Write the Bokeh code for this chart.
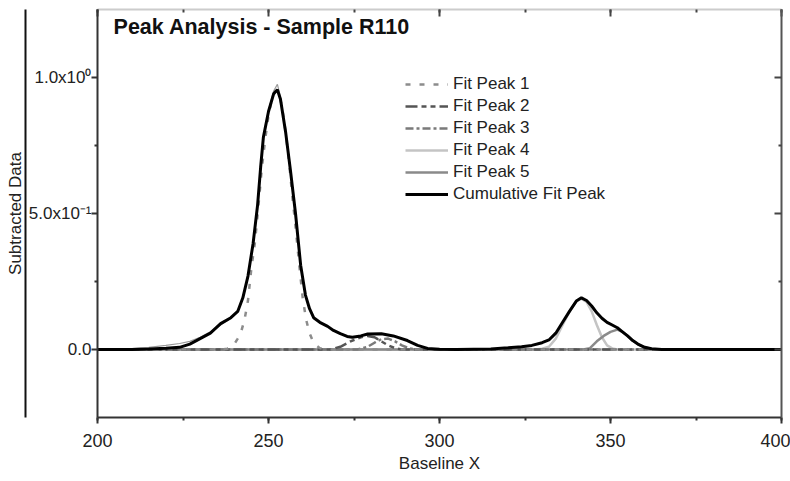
from bokeh.plotting import figure
from bokeh.models import (LinearAxis, FixedTicker, SingleIntervalTicker, Label,
                          Legend, LegendItem, Range1d)
from bokeh.embed import file_html
from bokeh.resources import INLINE

# ---------------- data ----------------
title_text = "Peak Analysis - Sample R110"
x_label = "Baseline X"
y_label = "Subtracted Data"

ytick_values = [0, 0.5, 1.0]
ytick_labels = ["0.0", "5.0x10\u207b\u00b9", "1.0x10\u2070"]
y_minor = [0.25, 0.75]

cum_x = [200, 210, 215, 220, 224, 227, 230, 233, 236, 239, 241, 242.5, 244, 245.5,
         246.8, 247.7, 248.5, 250, 251.5, 252.6, 253.5, 255, 256.4, 257.9, 259.4,
         260.8, 262, 263.2, 265, 267.3, 269, 271, 273, 274.5, 277, 279, 283, 286.5,
         290.6, 293.6, 296.5, 300, 305, 315, 320, 324, 327, 330, 332, 334, 336, 338,
         340, 341.5, 343, 344.5, 346, 347.5, 349, 350.5, 352, 353.5, 355, 356.5, 358,
         360, 362, 365, 400]
cum_y = [0, 0, 0.002, 0.005, 0.008, 0.02, 0.04, 0.06, 0.095, 0.117, 0.14, 0.19, 0.27,
         0.39, 0.53, 0.67, 0.78, 0.875, 0.94, 0.955, 0.92, 0.80, 0.66, 0.50, 0.31, 0.20,
         0.15, 0.117, 0.10, 0.085, 0.07, 0.058, 0.048, 0.045, 0.05, 0.057, 0.058, 0.05,
         0.033, 0.015, 0.004, 0.001, 0, 0.002, 0.006, 0.01, 0.015, 0.025, 0.035, 0.06,
         0.10, 0.14, 0.178, 0.19, 0.18, 0.16, 0.135, 0.115, 0.10, 0.09, 0.08, 0.065,
         0.05, 0.033, 0.02, 0.008, 0.003, 0, 0]

data_x = [200, 210, 215, 220, 224, 227, 230, 233, 236, 239, 241, 242.5, 244, 245.5,
          246.8, 247.7, 248.5, 250, 251.5, 252.6, 253.5, 255, 256.4, 257.9, 259.4,
          260.8, 262, 263.2, 265, 267.3, 269, 271, 273, 274.5, 277, 279, 283, 286.5,
          290.6, 293.6, 296.5, 300, 305, 315, 320, 324, 327, 330, 332, 334, 336, 338,
          340, 341.5, 343, 344.5, 346, 347.5, 349, 350.5, 352, 353.5, 355, 356.5, 358,
          360, 362, 365, 400]
data_y = [0, 0.003, 0.008, 0.015, 0.022, 0.03, 0.045, 0.065, 0.09, 0.115, 0.14, 0.19,
          0.27, 0.39, 0.53, 0.67, 0.78, 0.88, 0.95, 0.975, 0.93, 0.80, 0.66, 0.50, 0.31,
          0.20, 0.15, 0.117, 0.10, 0.085, 0.07, 0.058, 0.048, 0.045, 0.05, 0.057, 0.058,
          0.05, 0.033, 0.015, 0.004, 0.001, 0, 0.002, 0.006, 0.01, 0.015, 0.025, 0.035,
          0.06, 0.10, 0.14, 0.178, 0.19, 0.18, 0.16, 0.135, 0.115, 0.10, 0.09, 0.08,
          0.065, 0.05, 0.033, 0.02, 0.008, 0.003, 0, 0]

p1_x = [200, 236, 238, 240, 241, 242, 243, 244, 245, 246, 247, 248, 249, 250, 251, 252,
        253, 254, 255, 256, 257, 258, 259, 260, 261, 262, 263, 264, 265, 267, 400]
p1_y = [0, 0, 0.003, 0.02, 0.04, 0.065, 0.11, 0.18, 0.30, 0.39, 0.52, 0.66, 0.77, 0.86,
        0.92, 0.95, 0.945, 0.89, 0.80, 0.69, 0.56, 0.44, 0.31, 0.19, 0.11, 0.06, 0.03,
        0.015, 0.005, 0, 0]

p2_x = [200, 268, 271, 274, 277, 279, 281, 283, 285, 287, 289, 400]
p2_y = [0, 0, 0.01, 0.03, 0.045, 0.05, 0.045, 0.03, 0.015, 0.005, 0, 0]

p3_x = [200, 276, 279, 281, 283, 285, 287, 289, 291, 293, 400]
p3_y = [0, 0, 0.01, 0.025, 0.038, 0.04, 0.03, 0.015, 0.005, 0, 0]

p4_x = [200, 328, 330, 332, 334, 336, 338, 340, 341.5, 343, 344.5, 346, 347.5, 349,
        350.5, 352, 400]
p4_y = [0, 0, 0.003, 0.01, 0.04, 0.09, 0.14, 0.178, 0.187, 0.175, 0.14, 0.09, 0.045,
        0.015, 0.004, 0, 0]

p5_x = [200, 342, 344, 346, 348, 350, 352, 353.5, 355, 356.5, 358, 360, 362, 364, 400]
p5_y = [0, 0, 0.005, 0.03, 0.05, 0.065, 0.073, 0.065, 0.05, 0.033, 0.02, 0.008, 0.002,
        0, 0]

legend_labels = ["Fit Peak 1", "Fit Peak 2", "Fit Peak 3", "Fit Peak 4", "Fit Peak 5",
                 "Cumulative Fit Peak"]

# ---------------- figure ----------------
FONT = "Liberation Sans"

p = figure(width=790, height=481, x_range=Range1d(200, 400), y_range=Range1d(-0.25, 1.25),
           output_backend="svg", toolbar_location=None,
           x_axis_location=None, y_axis_location=None,
           min_border_left=97, min_border_right=9, min_border_top=9, min_border_bottom=64)
p.outline_line_color = None
p.grid.visible = False
p.background_fill_color = "white"
p.border_fill_color = "white"

def style_text(ax, tick_size):
    ax.major_label_text_font = FONT
    ax.major_label_text_font_size = tick_size
    ax.major_label_text_color = "#222222"
    ax.axis_label_text_font = FONT
    ax.axis_label_text_font_size = "17px"
    ax.axis_label_text_font_style = "normal"
    ax.axis_label_text_color = "#222222"

def hide_labels(ax):
    ax.major_label_text_color = None
    ax.major_label_text_font_size = "0px"
    ax.major_label_standoff = 0

# bottom axis
xb = LinearAxis(ticker=SingleIntervalTicker(interval=50, num_minor_ticks=2),
                axis_label=x_label)
style_text(xb, "18px")
xb.axis_line_color = "#333333"
xb.axis_line_width = 2
xb.major_tick_line_color = "#333333"
xb.major_tick_line_width = 2
xb.minor_tick_line_color = "#333333"
xb.minor_tick_line_width = 2
xb.major_tick_in = 0
xb.major_tick_out = 6
xb.minor_tick_in = 0
xb.minor_tick_out = 3
xb.major_label_standoff = 10
xb.axis_label_standoff = 4
p.add_layout(xb, "below")

# top axis (no labels)
xt = LinearAxis(ticker=SingleIntervalTicker(interval=50, num_minor_ticks=2))
xt.axis_line_color = "#cccccc"
xt.axis_line_width = 2
xt.major_tick_line_color = "#444444"
xt.major_tick_line_width = 2
xt.minor_tick_line_color = "#444444"
xt.minor_tick_line_width = 2
xt.major_tick_in = 7
xt.major_tick_out = 0
xt.minor_tick_in = 3
xt.minor_tick_out = 0
hide_labels(xt)
p.add_layout(xt, "above")

# left axis
yl = LinearAxis(ticker=FixedTicker(ticks=ytick_values, minor_ticks=y_minor))
yl.major_label_overrides = dict(zip(ytick_values, ytick_labels))
style_text(yl, "17px")
yl.axis_line_color = "#333333"
yl.axis_line_width = 2
yl.major_tick_line_color = "#333333"
yl.major_tick_line_width = 2
yl.minor_tick_line_color = "#333333"
yl.minor_tick_line_width = 2
yl.major_tick_in = 0
yl.major_tick_out = 6
yl.minor_tick_in = 0
yl.minor_tick_out = 3
yl.major_label_standoff = 0
p.add_layout(yl, "left")

# outer left axis: only a rule and the axis title
yo = LinearAxis(ticker=FixedTicker(ticks=[]), axis_label=y_label)
style_text(yo, "17px")
yo.axis_line_color = "#111111"
yo.axis_line_width = 2
yo.major_tick_line_color = None
yo.minor_tick_line_color = None
yo.major_tick_in = 0
yo.major_tick_out = 0
yo.minor_tick_in = 0
yo.minor_tick_out = 0
hide_labels(yo)
yo.axis_label_standoff = 1
p.add_layout(yo, "left")

# right axis (no labels)
yr = LinearAxis(ticker=FixedTicker(ticks=ytick_values, minor_ticks=y_minor))
yr.axis_line_color = "#555555"
yr.axis_line_width = 2
yr.major_tick_line_color = "#444444"
yr.major_tick_line_width = 2
yr.minor_tick_line_color = "#444444"
yr.minor_tick_line_width = 2
yr.major_tick_in = 7
yr.major_tick_out = 0
yr.minor_tick_in = 3
yr.minor_tick_out = 0
hide_labels(yr)
p.add_layout(yr, "right")

# ---------------- series ----------------
r_data = p.line(data_x, data_y, line_color="#9a9a9a", line_width=1.2)
r4 = p.line(p4_x, p4_y, line_color="#c4c4c4", line_width=2.5)
r5 = p.line(p5_x, p5_y, line_color="#8a8a8a", line_width=2.5)
r3 = p.line(p3_x, p3_y, line_color="#7a7a7a", line_width=2.5, line_dash="8 3 3 3")
r2 = p.line(p2_x, p2_y, line_color="#555555", line_width=2.5, line_dash="12 4 5 4 5 4")
r1 = p.line(p1_x, p1_y, line_color="#8c8c8c", line_width=2.5, line_dash="5 9")
rc = p.line(cum_x, cum_y, line_color="black", line_width=3)

legend = Legend(items=[LegendItem(label=lab, renderers=[r]) for lab, r in
                       zip(legend_labels, [r1, r2, r3, r4, r5, rc])],
                location=(308, 212))
legend.border_line_color = None
legend.background_fill_alpha = 0
legend.padding = 0
legend.margin = 0
legend.spacing = 0
legend.glyph_width = 43
legend.glyph_height = 22
legend.label_height = 22
legend.label_standoff = 5
legend.label_text_font = FONT
legend.label_text_font_size = "17px"
legend.label_text_color = "#222222"
p.add_layout(legend, "center")

title = Label(x=204.7, y=1.184, text=title_text, text_font=FONT,
              text_font_size="21.5px", text_font_style="bold", text_color="#111111",
              text_baseline="middle", text_align="left")
p.add_layout(title)

open("out.html", "w").write(file_html(p, INLINE))
